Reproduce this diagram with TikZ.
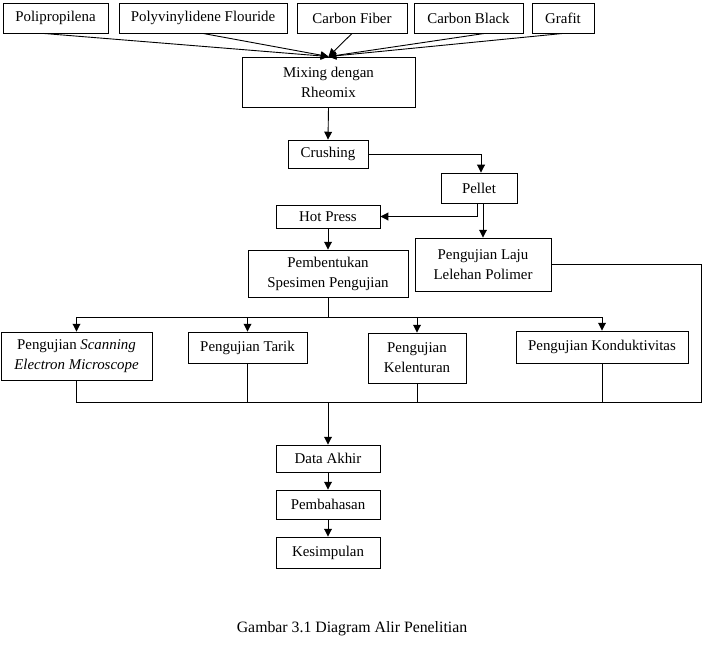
\documentclass[tikz,border=0pt]{standalone}
\usepackage{fontspec}
\setmainfont{Liberation Serif}
\usepackage{tikz}
\usetikzlibrary{arrows.meta,calc,positioning}

\begin{document}
\begin{tikzpicture}[x=1pt,y=-1pt,
    kotak/.style={draw,line width=0.9pt,align=center,inner sep=0pt,
        font=\fontsize{14.9}{20}\selectfont},
    garis/.style={line width=0.9pt},
    panah/.style={garis,-{Triangle[length=7.8pt,width=7.8pt]}}]
    \useasboundingbox (0,0) rectangle (703,671);
    % bahan baku
    \node[kotak,minimum width=105,minimum height=30] (pp) at (55.5,18) {Polipropilena};
    \node[kotak,minimum width=168,minimum height=30] (pvdf) at (203,18) {Polyvinylidene Flouride};
    \node[kotak,minimum width=110,minimum height=30] (cf) at (352,18) {Carbon Fiber};
    \node[kotak,minimum width=109,minimum height=30] (cb) at (468.5,18) {Carbon Black};
    \node[kotak,minimum width=62,minimum height=30] (gr) at (563,18) {Grafit};
    % proses
    \node[kotak,minimum width=173,minimum height=50] (mix) at (328.5,82) {Mixing dengan\\Rheomix};
    \node[kotak,minimum width=80,minimum height=28] (crush) at (328,154) {Crushing};
    \node[kotak,minimum width=76,minimum height=30] (pellet) at (479,188) {Pellet};
    \node[kotak,minimum width=104,minimum height=23] (hp) at (328,216.5) {Hot Press};
    \node[kotak,minimum width=136,minimum height=53] (laju) at (483,264.5) {Pengujian Laju\\Lelehan Polimer};
    \node[kotak,minimum width=160,minimum height=47] (pem) at (328,273.5) {Pembentukan\\Spesimen Pengujian};
    % pengujian
    \node[kotak,minimum width=151,minimum height=48] (sem) at (76.5,356) {Pengujian \textit{Scanning}\\\textit{Electron Microscope}};
    \node[kotak,minimum width=119,minimum height=31] (tarik) at (247.5,347.5) {Pengujian Tarik};
    \node[kotak,minimum width=98,minimum height=50] (kel) at (417,358) {Pengujian\\Kelenturan};
    \node[kotak,minimum width=172,minimum height=32] (kond) at (602,347) {Pengujian Konduktivitas};
    % hasil
    \node[kotak,minimum width=104,minimum height=27] (data) at (328,458.5) {Data Akhir};
    \node[kotak,minimum width=104,minimum height=29] (bahas) at (328,504.5) {Pembahasan};
    \node[kotak,minimum width=104,minimum height=31] (simpul) at (328,552.5) {Kesimpulan};
    \node[font=\fontsize{15.8}{19}\selectfont] (judul) at (352,629) {Gambar 3.1 Diagram Alir Penelitian};

    \coordinate (cabang) at (328,317);
    \coordinate (gabung) at (328,402);
    \coordinate (kanan) at (701,402);

    \draw[panah] ($(pp.south)+(-12,0)$) -- (mix.north);
    \draw[panah] (pvdf.south) -- (mix.north);
    \draw[panah] (cf.south) -- (mix.north);
    \draw[panah] ($(cb.south)+(16,0)$) -- (mix.north);
    \draw[panah] (gr.south) -- (mix.north);
    \draw[panah] (mix.south) -- (crush.north);
    \draw[panah] (crush.east) -| ($(pellet.north)+(2,0)$);
    \draw[panah] ($(pellet.south)+(-2,0)$) |- (hp.east);
    \draw[panah] (laju.north |- pellet.south) -- (laju.north);
    \draw[panah] (hp.south) -- (pem.north);
    \draw[garis] (pem.south) -- (cabang);
    \draw[panah] (cabang) -| (sem.north);
    \draw[panah] (cabang) -| (tarik.north);
    \draw[panah] (cabang) -| (kel.north);
    \draw[panah] (cabang) -| (kond.north);
    \draw[garis] (sem.south) |- (gabung);
    \draw[garis] (tarik.south) |- (gabung);
    \draw[garis] (kel.south) |- (gabung);
    \draw[garis] (kond.south) |- (gabung);
    \draw[garis] (laju.east) -| (kanan) -- (gabung);
    \draw[panah] (gabung) -- (data.north);
    \draw[panah] (data.south) -- (bahas.north);
    \draw[panah] (bahas.south) -- (simpul.north);
\end{tikzpicture}
\end{document}
